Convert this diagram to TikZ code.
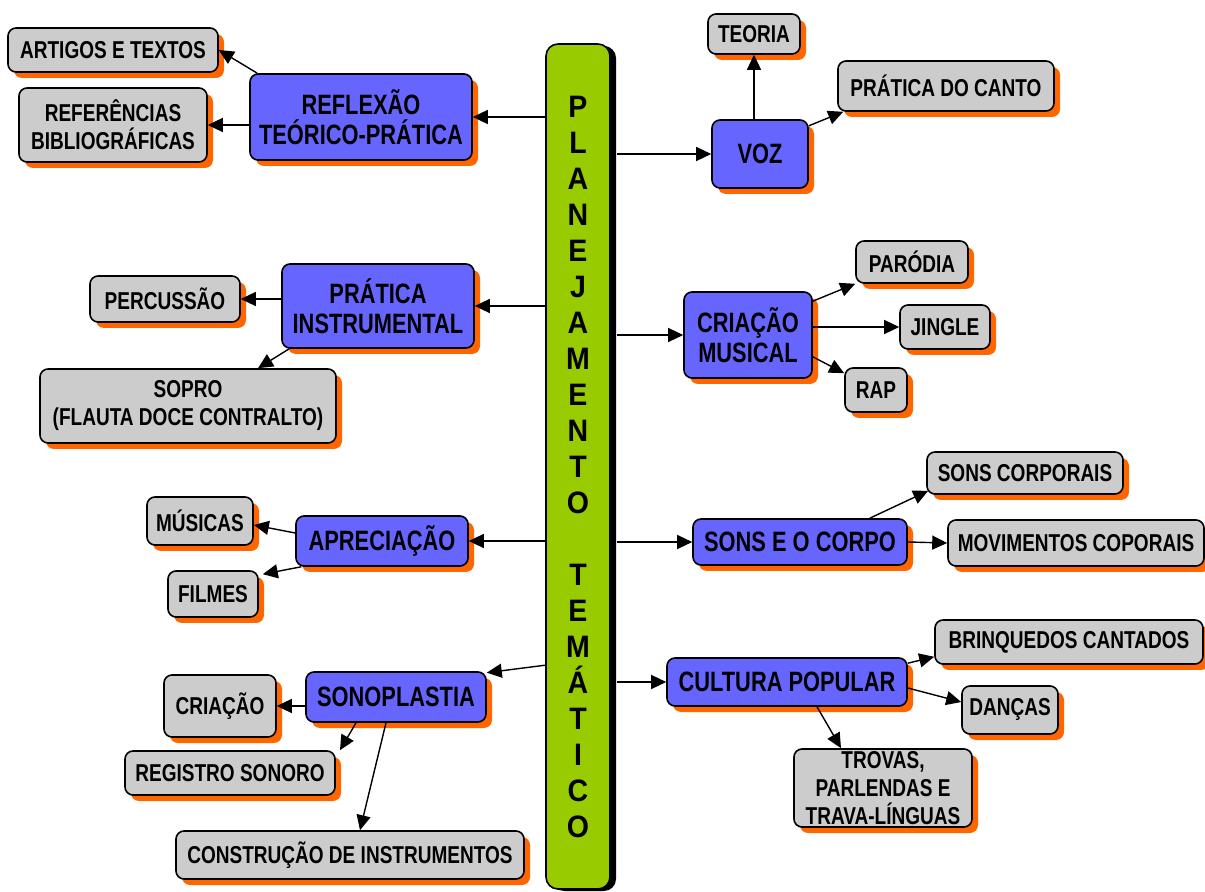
\documentclass[tikz,border=0pt]{standalone}
\usepackage{fontspec}
\setmainfont{Liberation Sans}[FakeStretch=0.78]
\newfontfamily\barfont{Liberation Sans}[FakeStretch=0.92]
\usetikzlibrary{arrows.meta, shadows}
\definecolor{topicblue}{RGB}{102,102,255}
\definecolor{itemgray}{RGB}{204,204,204}
\definecolor{shadeorange}{RGB}{255,102,0}
\definecolor{bargreen}{RGB}{153,204,0}

\begin{document}
\begin{tikzpicture}[
    x=0.5pt, y=-0.5pt,
    >={Triangle[length=7.5pt, width=7pt]},
    boxsize/.style 2 args={minimum width=#1, minimum height=#2},
    topicbox/.style={draw, line width=0.8pt, rounded corners=4pt, fill=topicblue, align=center, inner sep=1pt,
        font=\bfseries\fontsize{14}{15}\selectfont,
        drop shadow={shadow xshift=3pt, shadow yshift=-3pt, fill=shadeorange, opacity=1}},
    itembox/.style={draw, line width=0.8pt, rounded corners=4pt, fill=itemgray, align=center, inner sep=1pt,
        font=\bfseries\fontsize{12.2}{14}\selectfont,
        drop shadow={shadow xshift=3pt, shadow yshift=-3pt, fill=shadeorange, opacity=1}},
    mainbar/.style={draw, line width=0.8pt, rounded corners=6pt, fill=bargreen, align=center, inner sep=0pt,
        font=\barfont\bfseries\fontsize{15.5}{18}\selectfont,
        drop shadow={shadow xshift=3pt, shadow yshift=-1pt, fill=black, opacity=1}},
    link/.style={->, line width=0.7pt},
]
    \useasboundingbox (0,0) rectangle (1205,892);

    % central bar
    \node[mainbar, boxsize={32pt}{422.5pt}] (bar) at (578,466.5) {
        P\\L\\A\\N\\E\\J\\A\\M\\E\\N\\T\\O\\[18pt]
        T\\E\\M\\Á\\T\\I\\C\\O
    };

    % left side
    \node[topicbox, boxsize={111pt}{43pt}] (reflexao) at (361,117) {REFLEXÃO\\TEÓRICO-PRÁTICA};
    \node[itembox, boxsize={105pt}{22pt}] (artigos) at (113,50) {ARTIGOS E TEXTOS};
    \node[itembox, boxsize={94pt}{37pt}] (refs) at (113,125) {REFERÊNCIAS\\BIBLIOGRÁFICAS};

    \node[topicbox, boxsize={96pt}{42pt}] (pratinst) at (378,306) {PRÁTICA\\INSTRUMENTAL};
    \node[itembox, boxsize={75pt}{23pt}] (percussao) at (165,299) {PERCUSSÃO};
    \node[itembox, boxsize={148pt}{37pt}] (sopro) at (188,406) {SOPRO\\(FLAUTA DOCE CONTRALTO)};

    \node[topicbox, boxsize={86pt}{25pt}] (apreciacao) at (382,541) {APRECIAÇÃO};
    \node[itembox, boxsize={53pt}{24pt}] (musicas) at (200,521) {MÚSICAS};
    \node[itembox, boxsize={45pt}{23pt}] (filmes) at (213,594) {FILMES};

    \node[topicbox, boxsize={90pt}{25pt}] (sonoplastia) at (396,697) {SONOPLASTIA};
    \node[itembox, boxsize={56pt}{31pt}] (criacao) at (220,706) {CRIAÇÃO};
    \node[itembox, boxsize={105pt}{22pt}] (registro) at (230,773) {REGISTRO SONORO};
    \node[itembox, boxsize={174pt}{24pt}] (construcao) at (350,855) {CONSTRUÇÃO DE INSTRUMENTOS};

    % right side
    \node[topicbox, boxsize={48pt}{34pt}] (voz) at (760,154) {VOZ};
    \node[itembox, boxsize={46pt}{20pt}] (teoria) at (754,34) {TEORIA};
    \node[itembox, boxsize={108pt}{25pt}] (canto) at (946,86) {PRÁTICA DO CANTO};

    \node[topicbox, boxsize={64pt}{43pt}] (criacaomus) at (748,335) {CRIAÇÃO\\MUSICAL};
    \node[itembox, boxsize={56pt}{21pt}] (parodia) at (912,262) {PARÓDIA};
    \node[itembox, boxsize={45pt}{22pt}] (jingle) at (945,327) {JINGLE};
    \node[itembox, boxsize={31pt}{22pt}] (rap) at (876,390) {RAP};

    \node[topicbox, boxsize={107pt}{23pt}] (sonscorpo) at (800,542) {SONS E O CORPO};
    \node[itembox, boxsize={98pt}{21pt}] (sonscorporais) at (1025,473) {SONS CORPORAIS};
    \node[itembox, boxsize={128pt}{23pt}] (movimentos) at (1076,543) {MOVIMENTOS COPORAIS};

    \node[topicbox, boxsize={120pt}{24pt}] (cultura) at (787,682) {CULTURA POPULAR};
    \node[itembox, boxsize={134pt}{22pt}] (brinquedos) at (1069,642) {BRINQUEDOS CANTADOS};
    \node[itembox, boxsize={48pt}{24pt}] (dancas) at (1010,710) {DANÇAS};
    \node[itembox, boxsize={89pt}{39pt}] (trovas) at (883,788) {TROVAS,\\PARLENDAS E\\TRAVA-LÍNGUAS};

    % bar to topics
    \draw[link] (bar.west |- reflexao.east) -- (reflexao.east);
    \draw[link] (bar.west |- pratinst.east) -- (pratinst.east);
    \draw[link] (bar.west |- apreciacao.east) -- (apreciacao.east);
    \draw[link] ([yshift=3pt]bar.west |- sonoplastia.north) -- (sonoplastia.15);
    \draw[link] ([xshift=3pt]bar.east |- voz.west) -- (voz.west);
    \draw[link] ([xshift=3pt]bar.east |- criacaomus.west) -- (criacaomus.west);
    \draw[link] ([xshift=3pt]bar.east |- sonscorpo.west) -- (sonscorpo.west);
    \draw[link] ([xshift=3pt]bar.east |- cultura.west) -- (cultura.west);

    % topics to items
    \draw[link] ([xshift=4pt]reflexao.north west) -- (artigos.east);
    \draw[link] (reflexao.west |- refs.east) -- (refs.east);
    \draw[link] (pratinst.west |- percussao.east) -- (percussao.east);
    \draw[link] ([xshift=4pt]pratinst.south west) -- ([xshift=35pt]sopro.north);
    \draw[link] ([yshift=4pt]apreciacao.west) -- ([yshift=-2pt]musicas.east);
    \draw[link] ([xshift=3pt]apreciacao.south west) -- ([xshift=2pt, yshift=-2pt]filmes.north east);
    \draw[link] (sonoplastia.west |- criacao.east) -- (criacao.east);
    \draw[link] ([xshift=-20pt]sonoplastia.south) -- ([xshift=55pt]registro.north);
    \draw[link] ([xshift=-5pt]sonoplastia.south) -- ([xshift=5pt]construcao.north);

    \draw[link] (voz.north -| teoria.south) -- (teoria.south);
    \draw[link] (voz.30) -- ([xshift=3pt]canto.south west);
    \draw[link] ([yshift=-5pt]criacaomus.north east) -- (parodia.south west);
    \draw[link] (criacaomus.east |- jingle.west) -- (jingle.west);
    \draw[link] ([yshift=11pt]criacaomus.south east) -- ([yshift=-3pt]rap.north west);
    \draw[link] ([xshift=-19pt]sonscorpo.north east) -- ([xshift=1pt, yshift=2pt]sonscorporais.south west);
    \draw[link] (sonscorpo.east) -- (movimentos.west);
    \draw[link] ([yshift=-3pt]cultura.north east) -- ([yshift=4pt]brinquedos.south west);
    \draw[link] ([yshift=-3pt]cultura.east) -- ([yshift=4pt]dancas.west);
    \draw[link] ([xshift=15pt]cultura.south) -- ([xshift=-21pt]trovas.north);
\end{tikzpicture}
\end{document}
